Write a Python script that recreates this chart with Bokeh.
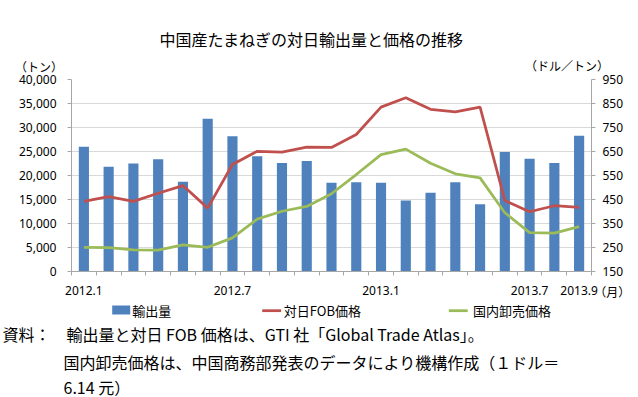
from bokeh.plotting import figure
from bokeh.models import (Range1d, LinearAxis, FixedTicker, Label,
                          NumeralTickFormatter)
from bokeh.embed import file_html
from bokeh.resources import INLINE

# ---- data ----
months = ["2012.1", "2012.2", "2012.3", "2012.4", "2012.5", "2012.6", "2012.7",
          "2012.8", "2012.9", "2012.10", "2012.11", "2012.12", "2013.1", "2013.2",
          "2013.3", "2013.4", "2013.5", "2013.6", "2013.7", "2013.8", "2013.9"]
export_volume = [26000, 21800, 22500, 23400, 18700, 31800, 28200, 24000, 22600, 23000,
                 18500, 18600, 18500, 14800, 16400, 18600, 14000, 24900, 23500, 22600, 28300]
fob_price = [442, 462, 442, 476, 508, 414, 596, 651, 647, 668,
             667, 721, 835, 874, 826, 815, 835, 446, 399, 424, 417]
wholesale_price = [251, 249, 240, 239, 261, 251, 290, 368, 401, 421,
                   474, 554, 637, 660, 601, 557, 540, 395, 312, 310, 337]
shown_labels = ["2012.1", "2012.7", "2013.1", "2013.7", "2013.9"]
left_ticks = [0, 5000, 10000, 15000, 20000, 25000, 30000, 35000, 40000]
right_ticks = [150, 250, 350, 450, 550, 650, 750, 850, 950]
series_names = ["輸出量", "対日FOB価格", "国内卸売価格"]

BLUE = "#4F81BD"
RED = "#C0504D"
GREEN = "#9BBB59"
JP = "Noto Sans CJK JP"
NUM = "Noto Sans"

xs = list(range(len(months)))

p = figure(width=638, height=397, frame_width=520, frame_height=192,
           output_backend="svg", toolbar_location=None,
           x_range=Range1d(-0.5, len(months) - 0.5), y_range=Range1d(0, 40000),
           min_border_left=71, min_border_right=47, min_border_top=79,
           min_border_bottom=126)
p.outline_line_color = None
p.extra_y_ranges = {"price": Range1d(150, 950)}

# axes
p.xaxis.ticker = FixedTicker(ticks=[months.index(l) for l in shown_labels],
                             minor_ticks=[i - 0.5 for i in range(len(months) + 1)])
p.xaxis.major_label_overrides = {months.index(l): l for l in shown_labels}
p.xaxis.major_tick_out = 0
p.xaxis.major_tick_in = 0
p.xaxis.minor_tick_out = 4
p.xaxis.minor_tick_in = 0
p.xaxis.minor_tick_line_color = "#A6A6A6"
p.xaxis.axis_line_color = "#A6A6A6"
p.xaxis.major_label_standoff = 10
p.xaxis.major_label_text_font = NUM
p.xaxis.major_label_text_font_size = "12px"
p.xaxis.major_label_text_color = "#000000"

p.yaxis.ticker = FixedTicker(ticks=left_ticks)
p.yaxis.formatter = NumeralTickFormatter(format="0,0")
p.yaxis.major_tick_out = 4
p.yaxis.major_tick_in = 0
p.yaxis.minor_tick_out = 0
p.yaxis.minor_tick_in = 0
p.yaxis.axis_line_color = "#A6A6A6"
p.yaxis.major_tick_line_color = "#A6A6A6"
p.yaxis.major_label_standoff = 11
p.yaxis.major_label_text_font = NUM
p.yaxis.major_label_text_font_size = "12px"
p.yaxis.major_label_text_color = "#000000"

ax_r = LinearAxis(y_range_name="price", ticker=FixedTicker(ticks=right_ticks))
ax_r.major_tick_out = 4
ax_r.major_tick_in = 0
ax_r.minor_tick_out = 0
ax_r.minor_tick_in = 0
ax_r.axis_line_color = "#A6A6A6"
ax_r.major_tick_line_color = "#A6A6A6"
ax_r.major_label_standoff = 7
ax_r.major_label_text_font = NUM
ax_r.major_label_text_font_size = "12px"
ax_r.major_label_text_color = "#000000"
p.add_layout(ax_r, "right")

p.xgrid.visible = False
p.ygrid.ticker = FixedTicker(ticks=left_ticks)
p.ygrid.grid_line_color = "#D9D9D9"

# glyphs
r_bar = p.vbar(x=xs, top=export_volume, bottom=0, width=0.41,
               fill_color=BLUE, line_color=None)
r_fob = p.line(x=xs, y=fob_price, y_range_name="price", line_color=RED, line_width=2.75)
r_ws = p.line(x=xs, y=wholesale_price, y_range_name="price", line_color=GREEN, line_width=2.75)


def side_label(side, x, y, text, size, align="left", fill=None):
    # a text placed in a side panel; x, y are screen offsets from its own row
    kw = {}
    if fill is not None:
        kw = dict(background_fill_color=fill, background_fill_alpha=1.0)
    p.add_layout(Label(x=x, y=y, x_units="screen", y_units="screen", text=text,
                       text_font=JP, text_font_size=size, text_align=align,
                       text_baseline="middle", text_color="#000000", **kw), side)


# ---- above panel (rows from the frame outward) ----
side_label("above", -32.5, 13.3, "（トン）", "12px", "center")
side_label("above", 495.5, -3, "（ドル／トン）", "12px", "center")
side_label("above", 540.7, -246, "（月）", "12px", "center")
side_label("above", 240, -10, "中国産たまねぎの対日輸出量と価格の推移", "16px", "center")

# ---- below panel: source notes rows, then the legend texts and keys ----
side_label("below", -69, -12.5, "資料：　輸出量と対日 FOB 価格は、GTI 社「Global Trade Atlas」。", "16px")
side_label("below", -8, -16, "国内卸売価格は、中国商務部発表のデータにより機構作成（１ドル＝", "16px")
side_label("below", -8, -17.5, "6.14 元）", "16px")

# legend texts
side_label("below", 60.7, 78.5, series_names[0], "13px")
side_label("below", 212.3, 97.5, series_names[1], "13px")
side_label("below", 401.6, 116.5, series_names[2], "13px")
# legend keys (filled boxes)
side_label("below", 40.7, 125.5, "\u3000\u3000\u3000", "6px", fill=BLUE)
side_label("below", 190.7, 127.8, "\u3000" * 10, "1.9px", fill=RED)
side_label("below", 377.3, 130.8, "\u3000" * 10, "1.9px", fill=GREEN)

open("out.html", "w").write(file_html(p, INLINE))
